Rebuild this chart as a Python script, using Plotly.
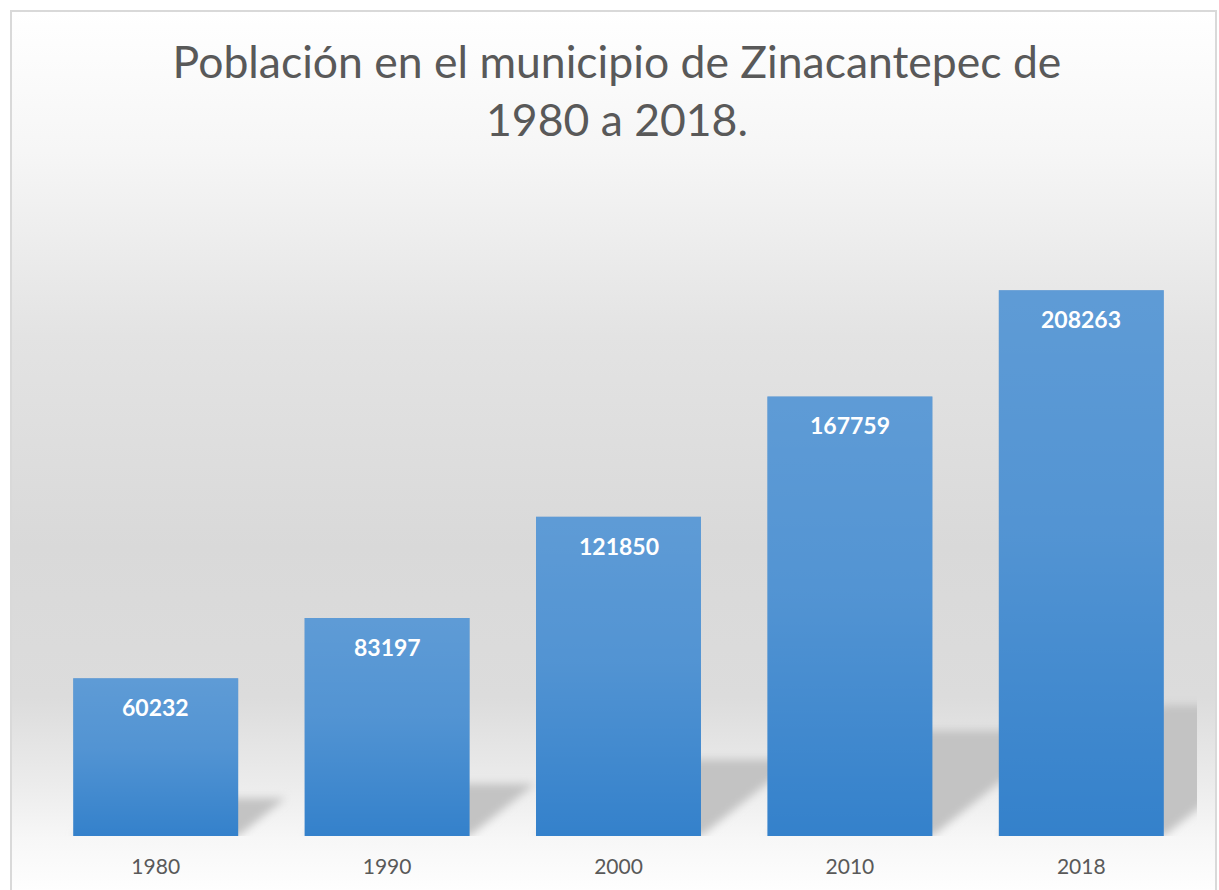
import base64
import plotly.graph_objects as go

# ---- data ----
years = ["1980", "1990", "2000", "2010", "2018"]
population = [60232, 83197, 121850, 167759, 208263]
title_line1 = "Población en el municipio de Zinacantepec de"
title_line2 = "1980 a 2018."

# ---- layout constants ----
W, H = 1219, 890
ML, MR, MT, MB = 40, 22, 181, 54
Y_MAX = 250000
BARGAP = 0.287
PLOT_W = W - ML - MR
PLOT_H = H - MT - MB
PX_X = PLOT_W / len(years)          # px per category unit
PX_Y = PLOT_H / Y_MAX               # px per value unit
BAR_W = 1 - BARGAP

BAR_COLOR = "#3481CB"
TEXT_GRAY = "#595959"
FONT = "Lato"


def svg_uri(svg):
    return "data:image/svg+xml;base64," + base64.b64encode(svg.encode("utf-8")).decode("ascii")


images = []

# chart area background gradient + border
bg_w, bg_h = 1207, 882
bg_svg = f"""<svg xmlns='http://www.w3.org/2000/svg' width='{bg_w}' height='{bg_h}' viewBox='0 0 {bg_w} {bg_h}' preserveAspectRatio='none'>
<defs><linearGradient id='g' x1='0' y1='0' x2='0' y2='1'>
<stop offset='0' stop-color='#ffffff'/>
<stop offset='0.16' stop-color='#f6f6f6'/>
<stop offset='0.37' stop-color='#e3e3e3'/>
<stop offset='0.61' stop-color='#d9d9d9'/>
<stop offset='0.78' stop-color='#dcdcdc'/>
<stop offset='0.88' stop-color='#ececec'/>
<stop offset='0.94' stop-color='#f7f7f7'/>
<stop offset='1' stop-color='#fefefe'/>
</linearGradient></defs>
<rect x='1' y='1' width='{bg_w-2}' height='{bg_h-2}' fill='url(#g)' stroke='#d9d9d9' stroke-width='2'/>
</svg>"""
images.append(dict(
    source=svg_uri(bg_svg), xref="paper", yref="paper",
    x=(10 - ML) / PLOT_W, y=(H - MB - 10) / PLOT_H,
    sizex=bg_w / PLOT_W, sizey=bg_h / PLOT_H,
    xanchor="left", yanchor="top", sizing="stretch", layer="below",
))

# soft sheared shadows behind each bar
pad = 12
bw_px = BAR_W * PX_X
for i, v in enumerate(population):
    h = v * PX_Y
    sh = 0.24 * h
    dx = 0.30 * h
    sw = bw_px + dx + 2 * pad
    shh = sh + 2 * pad
    pts = [(pad, pad + sh), (pad + bw_px, pad + sh), (pad + bw_px + dx, pad), (pad + dx, pad)]
    pts_s = " ".join(f"{x:.1f},{y:.1f}" for x, y in pts)
    svg = f"""<svg xmlns='http://www.w3.org/2000/svg' width='{sw:.1f}' height='{shh:.1f}' viewBox='0 0 {sw:.1f} {shh:.1f}' preserveAspectRatio='none'>
<defs><filter id='b' x='-20%' y='-50%' width='140%' height='200%'><feGaussianBlur stdDeviation='4'/></filter></defs>
<polygon points='{pts_s}' fill='#c3c3c3' filter='url(#b)'/>
</svg>"""
    images.append(dict(
        source=svg_uri(svg), xref="x", yref="y",
        x=i - BAR_W / 2 - pad / PX_X, y=(sh + pad) / PX_Y,
        sizex=sw / PX_X, sizey=shh / PX_Y,
        xanchor="left", yanchor="top", sizing="stretch", layer="below",
    ))

# light-to-dark sheen over each bar
sheen_svg = """<svg xmlns='http://www.w3.org/2000/svg' width='100' height='100' viewBox='0 0 100 100' preserveAspectRatio='none'>
<defs><linearGradient id='s' x1='0' y1='0' x2='0' y2='1'>
<stop offset='0' stop-color='#ffffff' stop-opacity='0.21'/>
<stop offset='0.45' stop-color='#ffffff' stop-opacity='0.15'/>
<stop offset='1' stop-color='#ffffff' stop-opacity='0'/>
</linearGradient></defs>
<rect width='100' height='100' fill='url(#s)'/>
</svg>"""
for i, v in enumerate(population):
    images.append(dict(
        source=svg_uri(sheen_svg), xref="x", yref="y",
        x=i - BAR_W / 2, y=v, sizex=BAR_W, sizey=v,
        xanchor="left", yanchor="top", sizing="stretch", layer="above",
    ))

fig = go.Figure()
fig.add_trace(go.Bar(
    x=list(range(len(years))), y=population,
    marker=dict(color=BAR_COLOR, line=dict(width=0)),
    hovertemplate="%{customdata}: %{y}<extra></extra>", customdata=years,
))

annotations = [
    dict(x=i, y=v, xref="x", yref="y", text=f"<b>{v}</b>", showarrow=False,
         yanchor="top", yshift=-13, font=dict(family=FONT, size=23, color="white"))
    for i, v in enumerate(population)
]

fig.update_layout(
    width=W, height=H,
    margin=dict(l=ML, r=MR, t=MT, b=MB, autoexpand=False),
    paper_bgcolor="white", plot_bgcolor="rgba(0,0,0,0)",
    bargap=BARGAP, showlegend=False,
    title=dict(
        text=f"{title_line1}<br>{title_line2}",
        x=617 / W, xanchor="center", xref="container",
        y=1 - 78 / H, yanchor="top", yref="container",
        font=dict(family=FONT, size=44.5, color=TEXT_GRAY),
    ),
    xaxis=dict(
        range=[-0.5, len(years) - 0.5], tickmode="array",
        tickvals=list(range(len(years))), ticktext=years,
        showgrid=False, zeroline=False, showline=False, ticks="",
        tickfont=dict(family=FONT, size=21, color=TEXT_GRAY),
        ticklabelstandoff=16, automargin=False, fixedrange=True,
    ),
    yaxis=dict(
        range=[0, Y_MAX], showgrid=False, zeroline=False, showline=False,
        showticklabels=False, ticks="", automargin=False, fixedrange=True,
    ),
    images=images,
    annotations=annotations,
)

fig.write_html("out.html", config={"displayModeBar": False},
               post_script="document.body.style.margin='0';")
